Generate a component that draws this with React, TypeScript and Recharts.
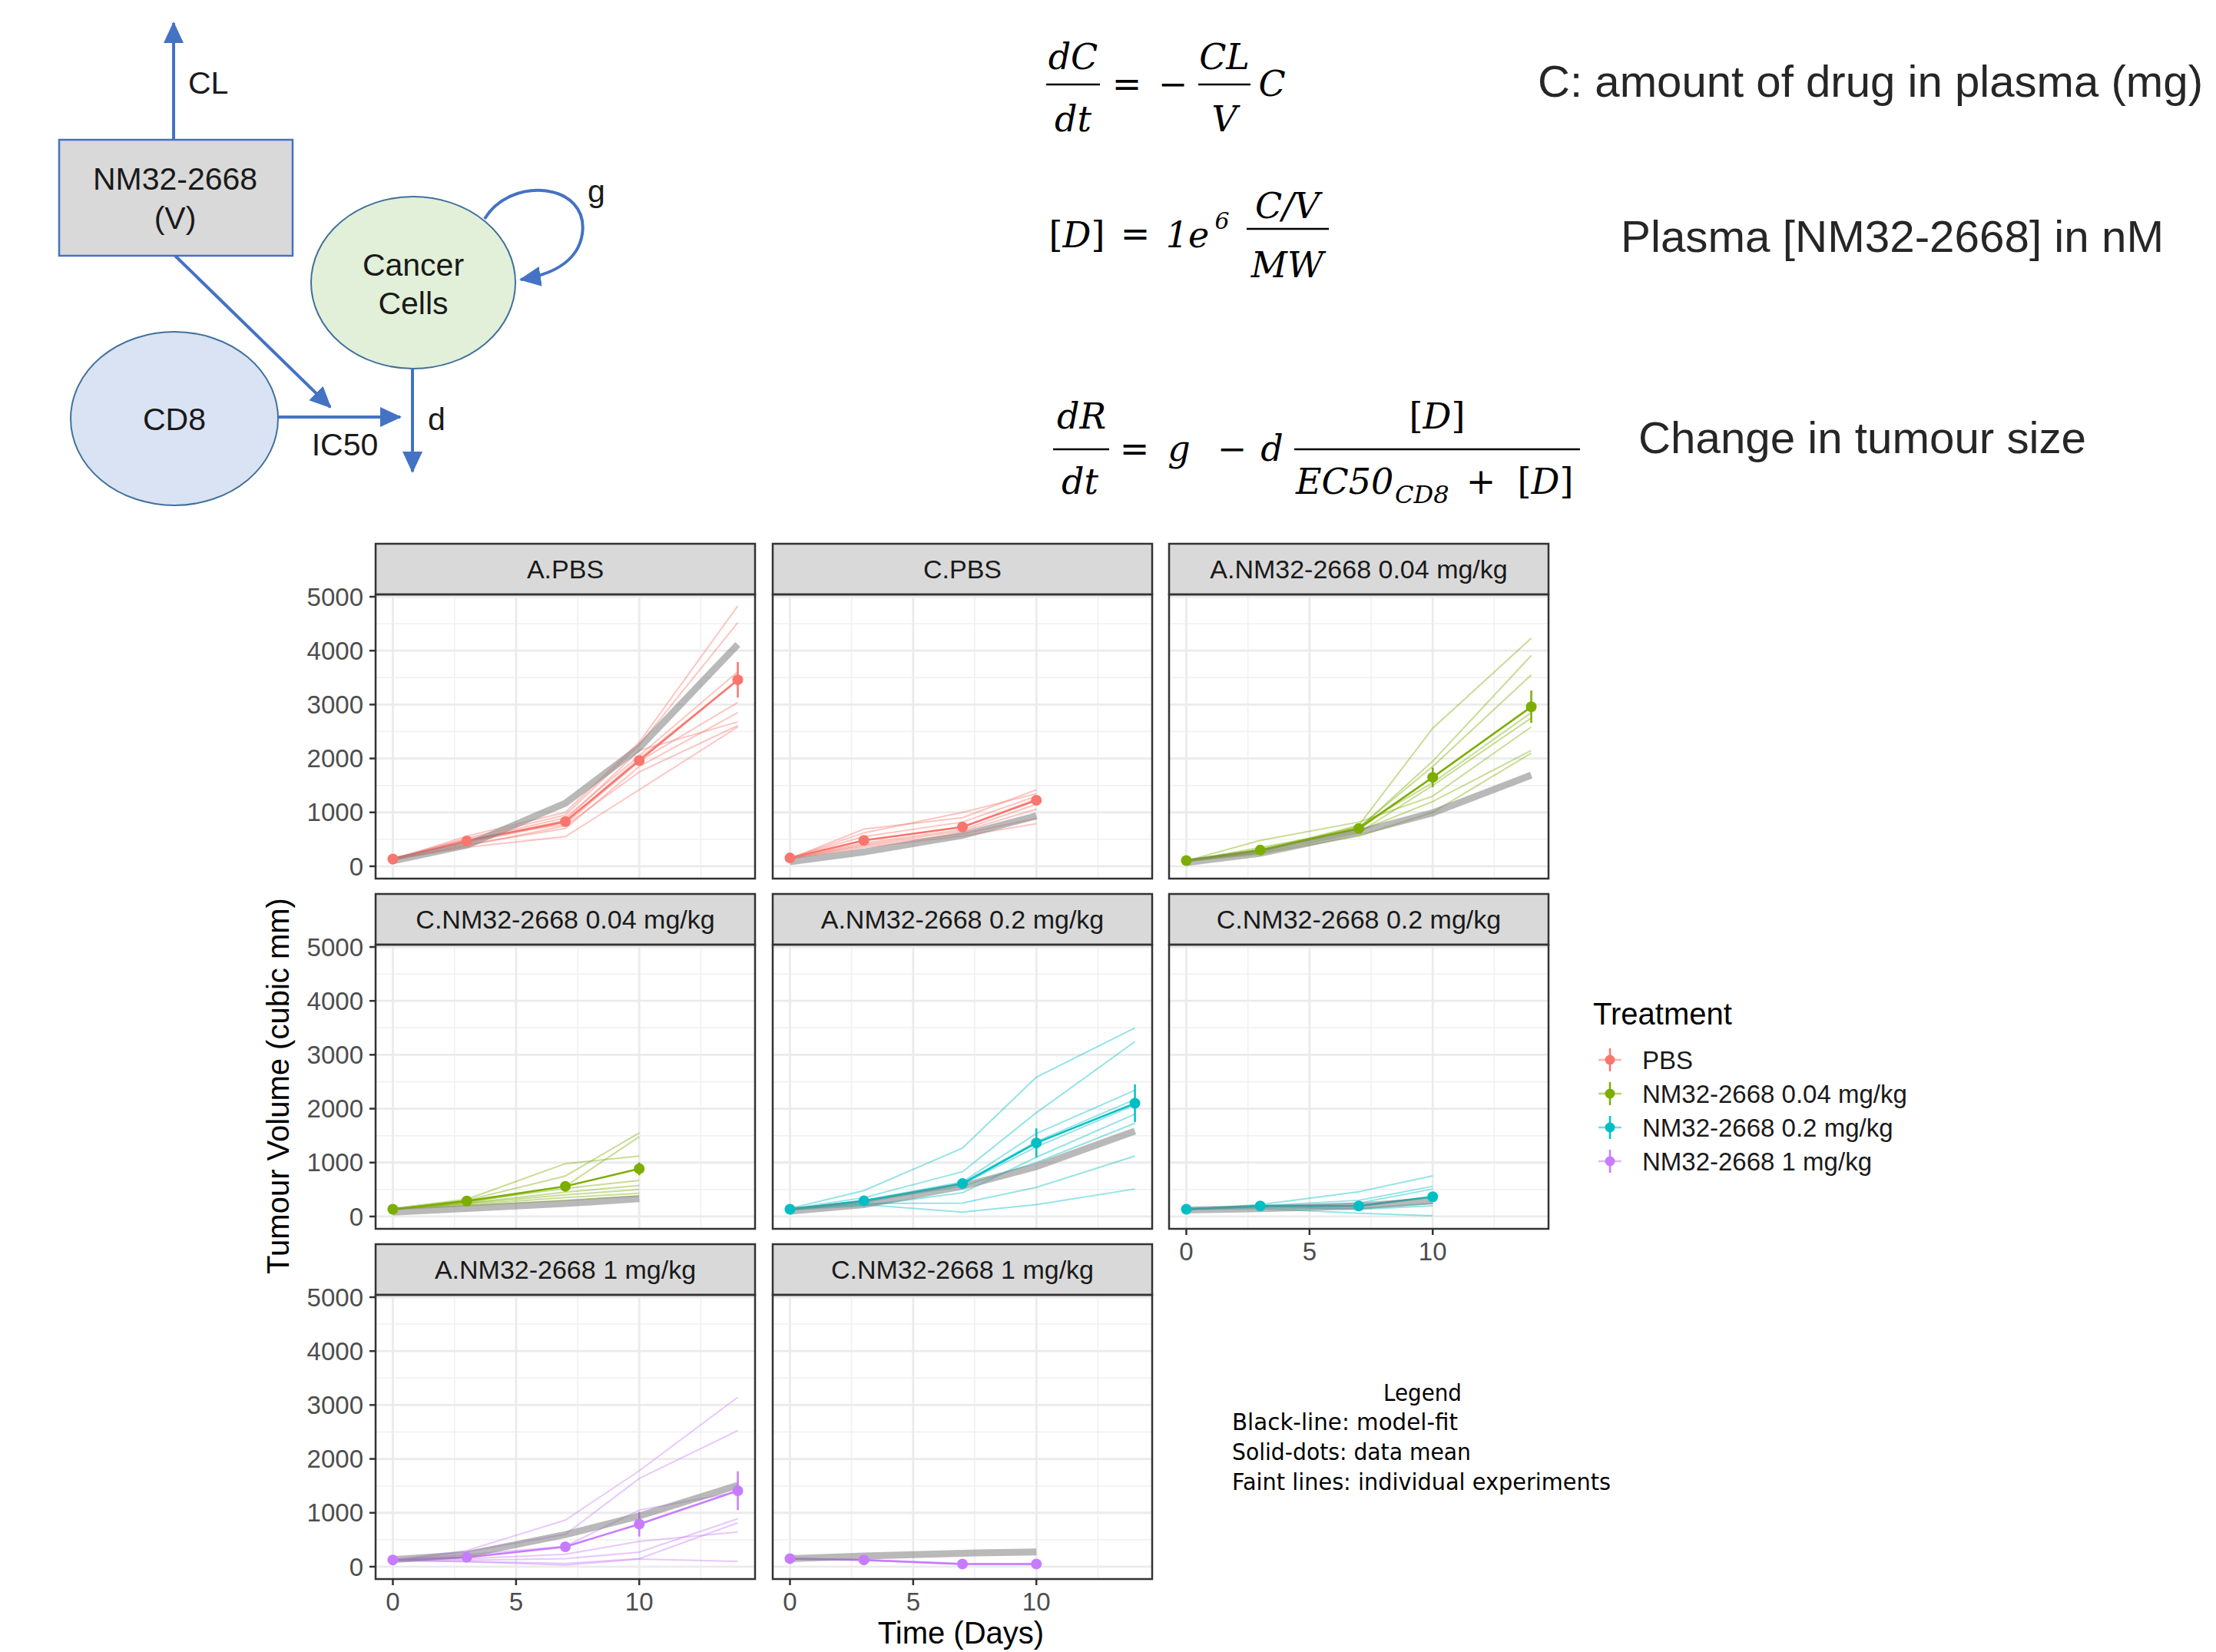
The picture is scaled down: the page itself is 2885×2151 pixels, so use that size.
import React from "react";
import { LineChart, Line, XAxis, YAxis, CartesianGrid, ErrorBar } from "recharts";

// ---- data ----
const DAYS_A = [0, 3, 7, 10, 14];
const DAYS_C = [0, 3, 7, 10];

const TREATMENTS = ["PBS", "NM32-2668 0.04 mg/kg", "NM32-2668 0.2 mg/kg", "NM32-2668 1 mg/kg"];
const TREATMENT_COLORS = ["#F8766D", "#7CAE00", "#00BFC4", "#C77CFF"];

const A_PBS_MEAN = [134, 470, 828, 1962, 3459];
const A_PBS_SE = [15, 35, 60, 70, 330];
const A_PBS_FIT = [100, 390, 1170, 2200, 4115];
const A_PBS_INDIV = [
  [120, 560, 1000, 2300, 4830],
  [130, 520, 950, 2250, 4520],
  [140, 480, 900, 2050, 3610],
  [130, 430, 820, 2000, 3450],
  [150, 500, 780, 1950, 3040],
  [110, 400, 700, 1850, 2850],
  [140, 460, 850, 2150, 2680],
  [120, 380, 750, 1750, 2610],
  [130, 350, 550, 1420, 2585],
];

const C_PBS_MEAN = [154, 480, 730, 1225];
const C_PBS_SE = [10, 40, 50, 60];
const C_PBS_FIT = [85, 265, 575, 935];
const C_PBS_INDIV = [
  [140, 690, 900, 1420],
  [150, 620, 1000, 1345],
  [160, 550, 820, 1300],
  [150, 480, 720, 1250],
  [155, 430, 680, 1150],
  [145, 400, 650, 1060],
  [150, 380, 600, 890],
  [140, 350, 560, 790],
];

const A_LOW_MEAN = [105, 300, 700, 1650, 2960];
const A_LOW_SE = [10, 30, 40, 180, 300];
const A_LOW_FIT = [70, 240, 630, 990, 1690];
const A_LOW_INDIV = [
  [90, 280, 760, 2560, 4230],
  [100, 300, 700, 1950, 3910],
  [110, 320, 720, 1850, 3550],
  [100, 350, 680, 1650, 2950],
  [95, 260, 740, 1550, 2850],
  [105, 250, 620, 1500, 2750],
  [100, 480, 820, 1300, 2585],
  [110, 290, 650, 1200, 2150],
  [90, 230, 560, 1000, 2100],
];

const C_LOW_MEAN = [135, 287, 560, 885];
const C_LOW_SE = [10, 30, 60, 120];
const C_LOW_FIT = [80, 150, 240, 330];
const C_LOW_INDIV = [
  [130, 300, 750, 1550],
  [140, 260, 560, 1480],
  [150, 320, 980, 1120],
  [130, 280, 520, 670],
  [140, 250, 450, 575],
  [135, 240, 400, 500],
  [140, 220, 350, 430],
  [130, 200, 300, 380],
];

const A_MID_MEAN = [135, 290, 610, 1365, 2100];
const A_MID_SE = [10, 40, 60, 270, 350];
const A_MID_FIT = [100, 220, 560, 925, 1585];
const A_MID_INDIV = [
  [150, 480, 1270, 2585, 3500],
  [140, 350, 830, 1925, 3245],
  [130, 300, 640, 1540, 2340],
  [140, 280, 620, 1390, 2170],
  [120, 260, 600, 1290, 2070],
  [135, 290, 560, 1000, 1730],
  [125, 200, 440, 1100, 1900],
  [130, 240, 250, 540, 1120],
  [140, 220, 80, 220, 510],
];

const C_MID_MEAN = [135, 195, 195, 365];
const C_MID_SE = [10, 20, 40, 60];
const C_MID_FIT = [120, 145, 195, 290];
const C_MID_INDIV = [
  [130, 220, 460, 755],
  [140, 200, 300, 560],
  [135, 180, 250, 510],
  [130, 210, 200, 365],
  [140, 190, 150, 245],
  [130, 150, 60, 15],
  [145, 170, 130, 200],
];

const A_HIGH_MEAN = [125, 175, 370, 790, 1410];
const A_HIGH_SE = [10, 30, 60, 230, 360];
const A_HIGH_FIT = [130, 225, 595, 940, 1510];
const A_HIGH_INDIV = [
  [120, 300, 865, 1780, 3145],
  [110, 280, 600, 1635, 2525],
  [130, 220, 380, 1050, 1385],
  [115, 150, 230, 470, 645],
  [125, 120, 150, 270, 890],
  [110, 100, 60, 150, 815],
  [120, 90, 30, 140, 100],
];

const C_HIGH_MEAN = [150, 125, 50, 50];
const C_HIGH_SE = [10, 20, 20, 20];
const C_HIGH_FIT = [150, 200, 250, 275];
const C_HIGH_INDIV = [
  [160, 130, 60, 40],
  [140, 120, 45, 60],
];

const X_TICKS = [0, 5, 10];
const X_MINOR = [2.5, 7.5, 12.5];
const Y_TICKS = [0, 1000, 2000, 3000, 4000, 5000];
const Y_MINOR = [500, 1500, 2500, 3500, 4500];

const PANELS = [
  { title: "A.PBS", days: DAYS_A, mean: A_PBS_MEAN, se: A_PBS_SE, fit: A_PBS_FIT, indiv: A_PBS_INDIV, t: 0, row: 0, col: 0 },
  { title: "C.PBS", days: DAYS_C, mean: C_PBS_MEAN, se: C_PBS_SE, fit: C_PBS_FIT, indiv: C_PBS_INDIV, t: 0, row: 0, col: 1 },
  { title: "A.NM32-2668 0.04 mg/kg", days: DAYS_A, mean: A_LOW_MEAN, se: A_LOW_SE, fit: A_LOW_FIT, indiv: A_LOW_INDIV, t: 1, row: 0, col: 2 },
  { title: "C.NM32-2668 0.04 mg/kg", days: DAYS_C, mean: C_LOW_MEAN, se: C_LOW_SE, fit: C_LOW_FIT, indiv: C_LOW_INDIV, t: 1, row: 1, col: 0 },
  { title: "A.NM32-2668 0.2 mg/kg", days: DAYS_A, mean: A_MID_MEAN, se: A_MID_SE, fit: A_MID_FIT, indiv: A_MID_INDIV, t: 2, row: 1, col: 1 },
  { title: "C.NM32-2668 0.2 mg/kg", days: DAYS_C, mean: C_MID_MEAN, se: C_MID_SE, fit: C_MID_FIT, indiv: C_MID_INDIV, t: 2, row: 1, col: 2 },
  { title: "A.NM32-2668 1 mg/kg", days: DAYS_A, mean: A_HIGH_MEAN, se: A_HIGH_SE, fit: A_HIGH_FIT, indiv: A_HIGH_INDIV, t: 3, row: 2, col: 0 },
  { title: "C.NM32-2668 1 mg/kg", days: DAYS_C, mean: C_HIGH_MEAN, se: C_HIGH_SE, fit: C_HIGH_FIT, indiv: C_HIGH_INDIV, t: 3, row: 2, col: 1 },
];

// ---- layout ----
const COL_X = [489, 1006, 1522];
const ROW_Y = [708, 1164, 1620];
const PANEL_W = 494;
const STRIP_H = 66;
const PLOT_H = 370;
const Y_AXIS_W = 110;
const X_AXIS_H = 60;
const PAD = 24;
const X_DOMAIN = [-0.7, 14.7];
const Y_DOMAIN = [-229, 5043];

const SANS = "'Liberation Sans', Arial, sans-serif";
const SERIF = "'DejaVu Serif', serif";
const BLUE = "#4472C4";
const BORDER = "#333333";

const Panel = ({ p }: { p: any }) => {
  const showY = p.col === 0;
  const showX = p.row === 2 || (p.col === 2 && p.row === 1);
  const color = TREATMENT_COLORS[p.t];
  const data = p.days.map((d: number, k: number) => {
    const row: any = { day: d, mean: p.mean[k], se: p.se[k], fit: p.fit[k] };
    p.indiv.forEach((s: number[], j: number) => {
      row["i" + j] = s[k];
    });
    return row;
  });
  const tickStyle = { fill: "#4D4D4D", fontSize: 33, fontFamily: SANS };
  const bottom = showX ? 0 : PAD;
  return (
    <div
      style={{
        position: "absolute",
        left: COL_X[p.col] - (showY ? Y_AXIS_W : 0),
        top: ROW_Y[p.row] + STRIP_H - PAD,
      }}
    >
      <LineChart
        width={PANEL_W + (showY ? Y_AXIS_W : 0)}
        height={PAD + PLOT_H + (showX ? X_AXIS_H : bottom)}
        data={data}
        margin={{ top: PAD, right: 0, bottom, left: 0 }}
      >
        <CartesianGrid verticalValues={X_MINOR} horizontalValues={Y_MINOR} stroke="#F0F0F0" strokeWidth={1.5} />
        <CartesianGrid verticalValues={X_TICKS} horizontalValues={Y_TICKS} stroke="#EBEBEB" strokeWidth={2.8} />
        <XAxis
          dataKey="day"
          type="number"
          domain={X_DOMAIN}
          ticks={X_TICKS}
          interval={0}
          allowDataOverflow
          hide={!showX}
          height={X_AXIS_H}
          axisLine={false}
          tickLine={{ stroke: BORDER, strokeWidth: 2.5 }}
          tickSize={8}
          tickMargin={10}
          tick={tickStyle}
        />
        <YAxis
          type="number"
          domain={Y_DOMAIN}
          ticks={Y_TICKS}
          interval={0}
          allowDataOverflow
          hide={!showY}
          width={Y_AXIS_W}
          axisLine={false}
          tickLine={{ stroke: BORDER, strokeWidth: 2.5 }}
          tickSize={8}
          tickMargin={8}
          tick={tickStyle}
        />
        {p.indiv.map((_: number[], j: number) => (
          <Line
            key={j}
            type="linear"
            dataKey={"i" + j}
            stroke={color}
            strokeWidth={2}
            strokeOpacity={0.42}
            dot={false}
            activeDot={false}
            isAnimationActive={false}
          />
        ))}
        <Line
          type="linear"
          dataKey="mean"
          stroke={color}
          strokeWidth={2.5}
          dot={{ r: 7, fill: color, stroke: color, strokeWidth: 0 }}
          activeDot={false}
          isAnimationActive={false}
        >
          <ErrorBar dataKey="se" width={0} stroke={color} strokeWidth={2.5} direction="y" isAnimationActive={false} />
        </Line>
        <Line
          type="linear"
          dataKey="fit"
          stroke="#7F7F7F"
          strokeWidth={9}
          strokeOpacity={0.55}
          dot={false}
          activeDot={false}
          isAnimationActive={false}
        />
      </LineChart>
    </div>
  );
};

const Diagram = () => (
  <g fontFamily={SANS} fontSize={41} fill="#1A1A1A">
    <line x1={226} y1={182} x2={226} y2={30} stroke={BLUE} strokeWidth={4} markerEnd="url(#arrowHead)" />
    <text x={245} y={122}>CL</text>
    <rect x={77} y={182} width={304} height={151} fill="#D9D9D9" stroke={BLUE} strokeWidth={2.5} />
    <text x={228} y={247} textAnchor="middle">NM32-2668</text>
    <text x={228} y={298} textAnchor="middle">(V)</text>
    <line x1={228} y1={333} x2={430} y2={530} stroke={BLUE} strokeWidth={4} markerEnd="url(#arrowHead)" />
    <ellipse cx={538} cy={368} rx={133} ry={112} fill="#E2F0D9" stroke="#41719C" strokeWidth={2} />
    <text x={538} y={359} textAnchor="middle">Cancer</text>
    <text x={538} y={409} textAnchor="middle">Cells</text>
    <path
      d="M 631 285 C 665 228, 768 238, 758 305 C 752 342, 716 358, 678 364"
      fill="none"
      stroke={BLUE}
      strokeWidth={4}
      markerEnd="url(#arrowHead)"
    />
    <text x={765} y={263}>g</text>
    <ellipse cx={227} cy={545} rx={135} ry={113} fill="#DAE3F3" stroke="#41719C" strokeWidth={2} />
    <text x={227} y={560} textAnchor="middle">CD8</text>
    <line x1={362} y1={543} x2={521} y2={543} stroke={BLUE} strokeWidth={4} markerEnd="url(#arrowHead)" />
    <text x={449} y={593} textAnchor="middle">IC50</text>
    <line x1={537} y1={480} x2={537} y2={614} stroke={BLUE} strokeWidth={4} markerEnd="url(#arrowHead)" />
    <text x={557} y={560}>d</text>
  </g>
);

const Equations = () => (
  <g fontFamily={SERIF} fontSize={46} fill="#000" fontStyle="italic">
    {/* dC/dt = -CL/V C */}
    <text x={1397} y={90} textAnchor="middle">dC</text>
    <line x1={1362} y1={110} x2={1432} y2={110} stroke="#000" strokeWidth={2.5} />
    <text x={1397} y={171} textAnchor="middle">dt</text>
    <text x={1467} y={125} textAnchor="middle" fontStyle="normal">=</text>
    <text x={1527} y={125} textAnchor="middle" fontStyle="normal">−</text>
    <text x={1594} y={90} textAnchor="middle">CL</text>
    <line x1={1560} y1={110} x2={1628} y2={110} stroke="#000" strokeWidth={2.5} />
    <text x={1594} y={171} textAnchor="middle">V</text>
    <text x={1656} y={125} textAnchor="middle">C</text>

    {/* [D] = 1e6 (C/V)/MW */}
    <text x={1402} y={322} textAnchor="middle">
      <tspan fontStyle="normal">[</tspan>D<tspan fontStyle="normal">]</tspan>
    </text>
    <text x={1478} y={320} textAnchor="middle" fontStyle="normal">=</text>
    <text x={1546} y={322} textAnchor="middle">1e</text>
    <text x={1591} y={298} textAnchor="middle" fontSize={30}>6</text>
    <text x={1676} y={284} textAnchor="middle">C/V</text>
    <line x1={1623} y1={298} x2={1730} y2={298} stroke="#000" strokeWidth={2.5} />
    <text x={1676} y={361} textAnchor="middle">MW</text>

    {/* dR/dt = g - d [D]/(EC50 + [D]) */}
    <text x={1408} y={558} textAnchor="middle">dR</text>
    <line x1={1371} y1={585} x2={1444} y2={585} stroke="#000" strokeWidth={2.5} />
    <text x={1406} y={643} textAnchor="middle">dt</text>
    <text x={1477} y={600} textAnchor="middle" fontStyle="normal">=</text>
    <text x={1535} y={600} textAnchor="middle">g</text>
    <text x={1604} y={600} textAnchor="middle" fontStyle="normal">−</text>
    <text x={1656} y={600} textAnchor="middle">d</text>
    <text x={1871} y={558} textAnchor="middle">
      <tspan fontStyle="normal">[</tspan>D<tspan fontStyle="normal">]</tspan>
    </text>
    <line x1={1685} y1={585} x2={2057} y2={585} stroke="#000" strokeWidth={2.5} />
    <text x={1687} y={643}>EC50</text>
    <text x={1816} y={655} fontSize={32}>CD8</text>
    <text x={1928} y={643} textAnchor="middle" fontStyle="normal">+</text>
    <text x={2012} y={643} textAnchor="middle">
      <tspan fontStyle="normal">[</tspan>D<tspan fontStyle="normal">]</tspan>
    </text>

    <g fontFamily={SANS} fontStyle="normal" fontSize={58} fill="#262626">
      <text x={2002} y={126} textLength={866} lengthAdjust="spacingAndGlyphs">C: amount of drug in plasma (mg)</text>
      <text x={2110} y={328} textLength={707} lengthAdjust="spacingAndGlyphs">Plasma [NM32-2668] in nM</text>
      <text x={2133} y={590} textLength={583} lengthAdjust="spacingAndGlyphs">Change in tumour size</text>
    </g>
  </g>
);

const FacetFrames = () => (
  <g>
    {PANELS.map((p) => {
      const x = COL_X[p.col];
      const y = ROW_Y[p.row];
      return (
        <g key={p.title}>
          <rect x={x} y={y} width={PANEL_W} height={STRIP_H} fill="#D9D9D9" stroke={BORDER} strokeWidth={2.5} />
          <text
            x={x + PANEL_W / 2}
            y={y + STRIP_H / 2 + 12}
            textAnchor="middle"
            fontFamily={SANS}
            fontSize={34}
            fill="#1A1A1A"
          >
            {p.title}
          </text>
          <rect x={x} y={y + STRIP_H} width={PANEL_W} height={PLOT_H} fill="none" stroke={BORDER} strokeWidth={2.5} />
        </g>
      );
    })}
  </g>
);

const TreatmentLegend = () => (
  <g fontFamily={SANS}>
    <text x={2074} y={1334} fontSize={40} fill="#000">Treatment</text>
    {TREATMENTS.map((name, k) => {
      const cy = 1380 + k * 44;
      const c = TREATMENT_COLORS[k];
      return (
        <g key={name}>
          <line x1={2081} y1={cy} x2={2111} y2={cy} stroke={c} strokeOpacity={0.55} strokeWidth={2.5} />
          <line x1={2096} y1={cy - 15} x2={2096} y2={cy + 15} stroke={c} strokeWidth={2.5} />
          <circle cx={2096} cy={cy} r={6.5} fill={c} />
          <text x={2138} y={cy + 12} fontSize={33} fill="#1A1A1A">{name}</text>
        </g>
      );
    })}
  </g>
);

const NoteLegend = () => (
  <g fontFamily="'DejaVu Sans', sans-serif" fontSize={30} fill="#000">
    <text x={1852} y={1824} textAnchor="middle" textLength={102} lengthAdjust="spacingAndGlyphs">Legend</text>
    <text x={1604} y={1862} textLength={294} lengthAdjust="spacingAndGlyphs">Black-line: model-fit</text>
    <text x={1604} y={1901} textLength={311} lengthAdjust="spacingAndGlyphs">Solid-dots: data mean</text>
    <text x={1604} y={1940} textLength={493} lengthAdjust="spacingAndGlyphs">Faint lines: individual experiments</text>
  </g>
);

export default function App() {
  return (
    <div style={{ position: "absolute", left: 0, top: 0, width: 2885, height: 2151, background: "#fff", overflow: "hidden" }}>
      {PANELS.map((p) => (
        <Panel key={p.title} p={p} />
      ))}
      <svg width={2885} height={2151} style={{ position: "absolute", left: 0, top: 0, pointerEvents: "none" }}>
        <defs>
          <marker
            id="arrowHead"
            viewBox="0 0 28 26"
            refX={26}
            refY={13}
            markerWidth={28}
            markerHeight={26}
            markerUnits="userSpaceOnUse"
            orient="auto"
          >
            <path d="M0,0 L28,13 L0,26 z" fill={BLUE} />
          </marker>
        </defs>
        <Diagram />
        <Equations />
        <FacetFrames />
        <TreatmentLegend />
        <NoteLegend />
        <text
          transform="translate(376 1414) rotate(-90)"
          textAnchor="middle"
          fontFamily={SANS}
          fontSize={40}
          fill="#000"
        >
          Tumour Volume (cubic mm)
        </text>
        <text x={1251} y={2140} textAnchor="middle" fontFamily={SANS} fontSize={40} fill="#000">
          Time (Days)
        </text>
      </svg>
    </div>
  );
}
